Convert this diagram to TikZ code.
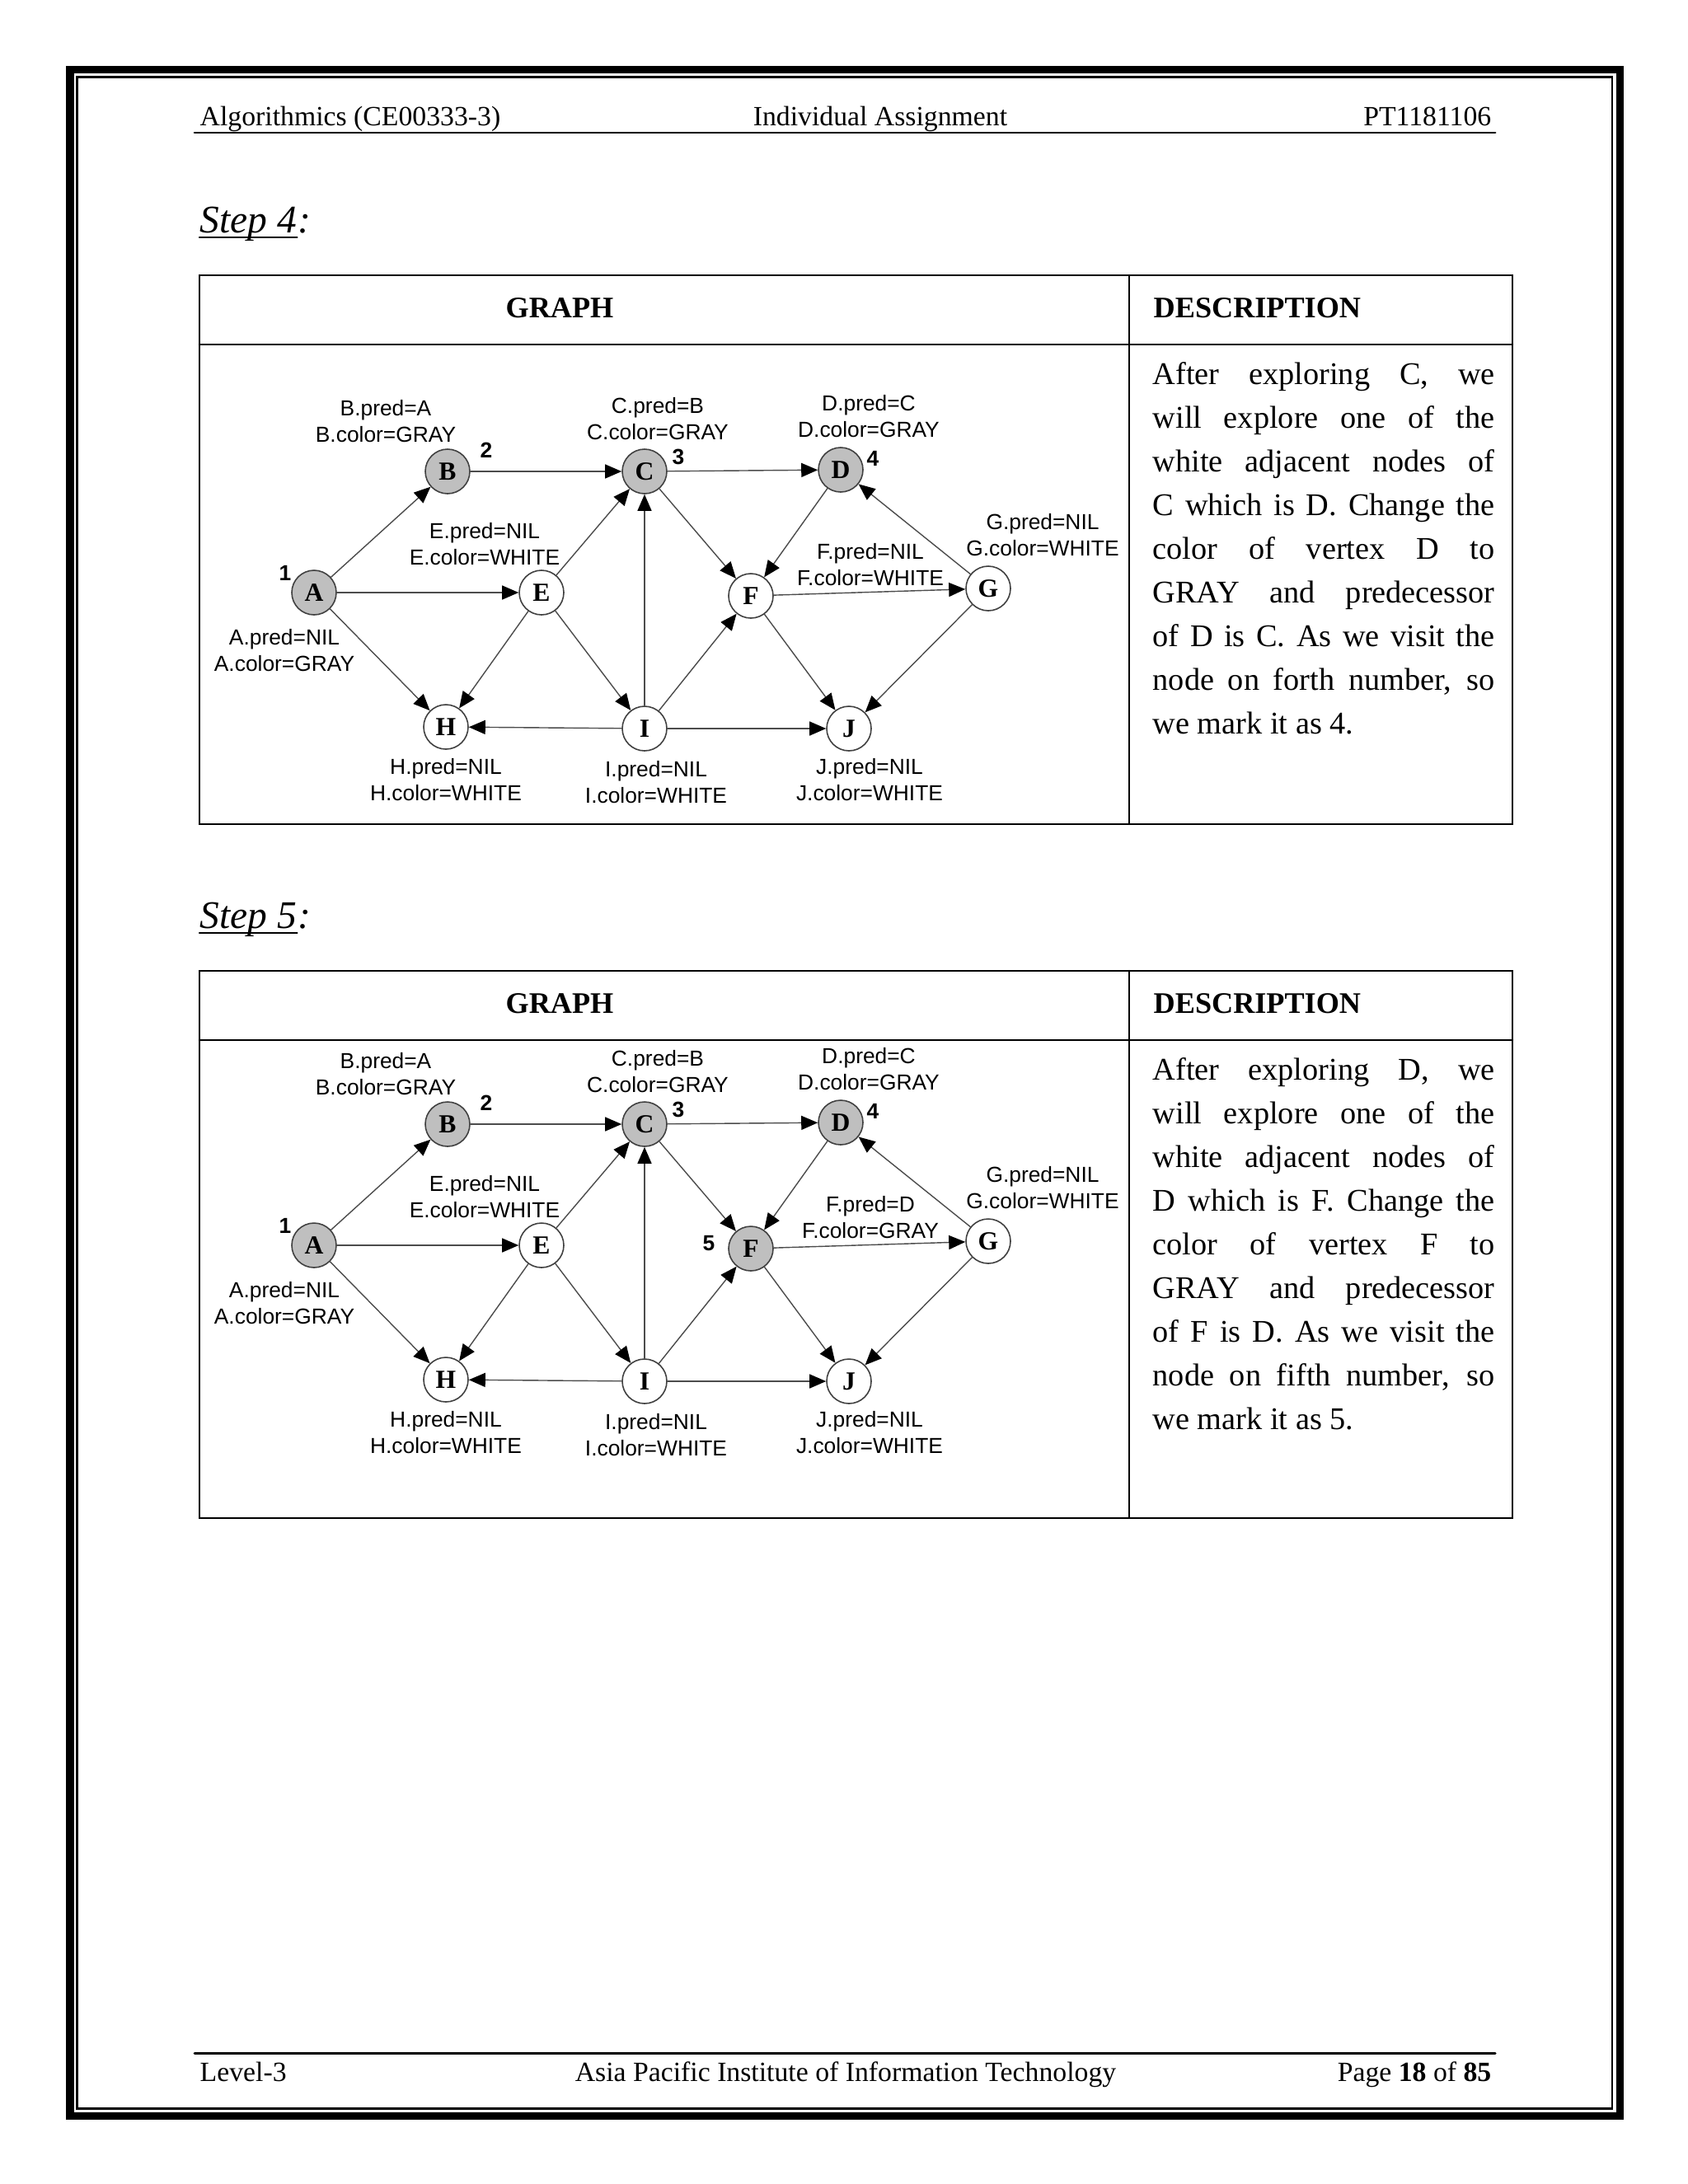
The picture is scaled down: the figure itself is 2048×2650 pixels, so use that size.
\documentclass[tikz,border=0pt]{standalone}
\usepackage{fontspec}
\setmainfont{Liberation Serif}
\setsansfont{Liberation Sans}
\usepackage{tikz}
\usetikzlibrary{calc,arrows.meta}
\tolerance=10000
\hbadness=10000

% one BFS snapshot: #1 tag, #2 style of F, #3 #4 attributes of F
\newcommand\bfsgraph[4]{%
\node[seen] (A#1) at (381,719) {A} ;
\node[seen] (B#1) at (543,572) {B} ;
\node[seen] (C#1) at (782,572) {C} ;
\node[seen] (D#1) at (1020,570) {D} ;
\node[vtx] (E#1) at (657,719) {E} ;
\node[#2] (F#1) at (911,723) {F} ;
\node[vtx] (G#1) at (1199,714) {G} ;
\node[vtx] (H#1) at (541,882) {H} ;
\node[vtx] (I#1) at (782,884) {I} ;
\node[vtx] (J#1) at (1030,884) {J} ;

\node[order] (one#1) at (346,695) {1} ;
\node[order] (two#1) at (590,546) {2} ;
\node[order] (three#1) at (823,554) {3} ;
\node[order] (four#1) at (1059,556) {4} ;

\node[info] (Ai#1) at (345,789) {A.pred=NIL\\A.color=GRAY} ;
\node[info] (Bi#1) at (468,511) {B.pred=A\\B.color=GRAY} ;
\node[info] (Ci#1) at (798,508) {C.pred=B\\C.color=GRAY} ;
\node[info] (Di#1) at (1054,505) {D.pred=C\\D.color=GRAY} ;
\node[info] (Ei#1) at (588,660) {E.pred=NIL\\E.color=WHITE} ;
\node[info] (Fi#1) at (1056,685) {#3\\#4} ;
\node[info] (Gi#1) at (1265,649) {G.pred=NIL\\G.color=WHITE} ;
\node[info] (Hi#1) at (541,946) {H.pred=NIL\\H.color=WHITE} ;
\node[info] (Ii#1) at (796,949) {I.pred=NIL\\I.color=WHITE} ;
\node[info] (Ji#1) at (1055,946) {J.pred=NIL\\J.color=WHITE} ;

\draw[edge] (A#1) -- (B#1) ;
\draw[edge] (A#1) -- (E#1) ;
\draw[edge] (A#1) -- (H#1) ;
\draw[edge] (B#1) -- (C#1) ;
\draw[edge] (C#1) -- (D#1) ;
\draw[edge] (C#1) -- (F#1) ;
\draw[edge] (E#1) -- (C#1) ;
\draw[edge] (E#1) -- (H#1) ;
\draw[edge] (E#1) -- (I#1) ;
\draw[edge] (I#1) -- (C#1) ;
\draw[edge] (I#1) -- (H#1) ;
\draw[edge] (I#1) -- (F#1) ;
\draw[edge] (I#1) -- (J#1) ;
\draw[edge] (D#1) -- (F#1) ;
\draw[edge] (F#1) -- (G#1) ;
\draw[edge] (F#1) -- (J#1) ;
\draw[edge] (G#1) -- (D#1) ;
\draw[edge] (G#1) -- (J#1) ;
}

\begin{document}
\begin{tikzpicture}[x=.1mm, y=-.1mm, line cap=round, >={Triangle[length=2mm,width=1.7mm,color=black]},
  vtx/.style={circle,draw=black!75,line width=.45pt,fill=white,minimum size=5.4mm,inner sep=0pt,font=\bfseries\fontsize{9}{10}\selectfont},
  seen/.style={vtx,fill=black!25},
  info/.style={align=center,inner sep=0pt,font=\sffamily\fontsize{7.5}{9.25}\selectfont},
  order/.style={inner sep=0pt,font=\sffamily\bfseries\fontsize{7.5}{9}\selectfont},
  edge/.style={->,draw=black!70,line width=.4pt},
  rule/.style={line width=.7pt},
  pagetext/.style={inner sep=0pt,font=\fontsize{9.6}{12}\selectfont},
  steptitle/.style={inner sep=0pt,font=\itshape\fontsize{13.5}{16}\selectfont},
  colhead/.style={inner sep=0pt,font=\bfseries\fontsize{10.3}{12}\selectfont},
  desc/.style={inner sep=0pt,text width=41.5mm,align=justify,font=\fontsize{10.9}{15.08}\selectfont}]

\useasboundingbox (0,0) rectangle (2048,2650) ;

% page frame
\draw[line width=2.7pt] (85,84.5) rectangle (1965.5,2567.5) ;
\draw[line width=.7pt] (93.5,93.5) rectangle (1956,2558.5) ;

% running head
\node[pagetext,anchor=base west] (course) at (242,152) {Algorithmics (CE00333-3)} ;
\node[pagetext,anchor=base] (assign) at (1068,152) {Individual Assignment} ;
\node[pagetext,anchor=base east] (tpnum) at (1810,152) {PT1181106} ;
\draw[line width=.85pt] (236,161) -- (1814,161) ;

% step 4
\node[steptitle,anchor=base west] (step4) at (242,282) {Step 4} ;
\node[steptitle,anchor=base west] (colon4) at (step4.base east) {:} ;
\draw[line width=.6pt] ($(step4.base west)+(0,6)$) -- ($(step4.base east)+(0,6)$) ;

\draw[rule] (242,334) rectangle (1835,1000) ;
\draw[rule] (242,418) -- (1835,418) ;
\draw[rule] (1370,334) -- (1370,1000) ;
\node[colhead,anchor=base] (graph4) at (679,385) {GRAPH} ;
\node[colhead,anchor=base west] (descr4) at (1399,385) {DESCRIPTION} ;
\node[desc,anchor=base west] (text4) at (1398,466) {After exploring C, we\linebreak
will explore one of the\linebreak white adjacent nodes of\linebreak
C which is D. Change the\linebreak color of vertex D to\linebreak
GRAY and predecessor\linebreak of D is C. As we visit the\linebreak
node on forth number, so\linebreak we mark it as 4.} ;

\bfsgraph{4}{vtx}{F.pred=NIL}{F.color=WHITE}

% step 5
\node[steptitle,anchor=base west] (step5) at (242,1126) {Step 5} ;
\node[steptitle,anchor=base west] (colon5) at (step5.base east) {:} ;
\draw[line width=.6pt] ($(step5.base west)+(0,6)$) -- ($(step5.base east)+(0,6)$) ;

\draw[rule] (242,1178) rectangle (1835,1842) ;
\draw[rule] (242,1262) -- (1835,1262) ;
\draw[rule] (1370,1178) -- (1370,1842) ;
\node[colhead,anchor=base] (graph5) at (679,1229) {GRAPH} ;
\node[colhead,anchor=base west] (descr5) at (1399,1229) {DESCRIPTION} ;
\node[desc,anchor=base west] (text5) at (1398,1310) {After exploring D, we\linebreak
will explore one of the\linebreak white adjacent nodes of\linebreak
D which is F. Change the\linebreak color of vertex F to\linebreak
GRAY and predecessor\linebreak of F is D. As we visit the\linebreak
node on fifth number, so\linebreak we mark it as 5.} ;

\begin{scope}[shift={(0,792)}]
\bfsgraph{5}{seen}{F.pred=D}{F.color=GRAY}
\node[order] (five5) at (860,717) {5} ;
\end{scope}

% running foot
\draw[line width=.85pt] (236,2491) -- (1814,2491) ;
\node[pagetext,anchor=base west] (level) at (242,2525) {Level-3} ;
\node[pagetext,anchor=base] (inst) at (1026,2525) {Asia Pacific Institute of Information Technology} ;
\node[pagetext,anchor=base east] (page) at (1810,2525) {Page \textbf{18} of \textbf{85}} ;

\end{tikzpicture}
\end{document}
